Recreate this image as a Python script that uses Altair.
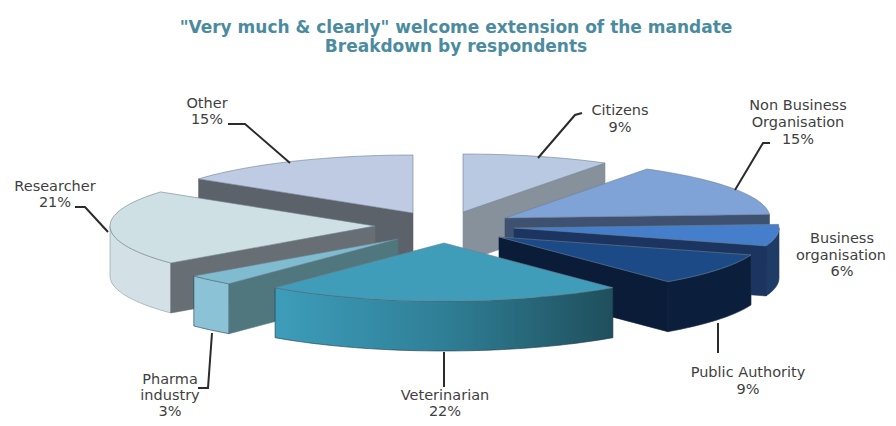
import math
import altair as alt
import pandas as pd

categories = ["Citizens", "Non Business Organisation", "Business organisation", "Public Authority",
              "Veterinarian", "Pharma industry", "Researcher", "Other"]
values = [9, 15, 6, 9, 22, 3, 21, 15]
title_lines = ['"Very much & clearly" welcome extension of the mandate', "Breakdown by respondents"]

# exploded-slice apex, per category
apex = {"Citizens": (463, 212), "Non Business Organisation": (505, 218), "Business organisation": (514, 228),
        "Public Authority": (499, 237), "Veterinarian": (444, 243), "Pharma industry": (398, 239),
        "Researcher": (375, 226), "Other": (413, 213)}
# top, wall, cut face colours
colors = {"Citizens": ("#b9c9e2", "#b9c9e2", "#87919c"),
          "Non Business Organisation": ("#7fa3d6", "#3f5170", "#3f5170"),
          "Business organisation": ("#457fcb", "#1f3c66", "#1c3560"),
          "Public Authority": ("#1c4a86", "#0b1f3d", "#0a1c38"),
          "Veterinarian": ("#409db9", None, "#1f5260"),
          "Pharma industry": ("#7fbccf", "#8cc2d6", "#50767e"),
          "Researcher": ("#cfe0e5", "#d3e0e5", "#676f74"),
          "Other": ("#bfcbe3", "#bfcbe3", "#5c6269")}
draw_order = ["Other", "Citizens", "Researcher", "Non Business Organisation", "Pharma industry",
              "Business organisation", "Public Authority", "Veterinarian"]
RX, RY, DEPTH = 265, 58, 50

labels = [
    (207, 104, "Other"), (207, 120, "15%"),
    (620, 111, "Citizens"), (620, 128, "9%"),
    (798, 106, "Non Business"), (798, 123, "Organisation"), (798, 140, "15%"),
    (842, 239, "Business"), (841, 256, "organisation"), (842, 272, "6%"),
    (748, 373, "Public Authority"), (748, 390, "9%"),
    (445, 396, "Veterinarian"), (445, 412, "22%"),
    (170, 380, "Pharma"), (170, 396, "industry"), (170, 412, "3%"),
    (55, 187, "Researcher"), (55, 203, "21%"),
]
leaders = [
    [(228, 124), (245, 124), (290, 163)],
    [(582, 113), (575, 115), (538, 158)],
    [(770, 143), (763, 143), (735, 190)],
    [(718, 323), (718, 353)],
    [(444, 352), (444, 387)],
    [(212, 333), (208, 388), (198, 388)],
    [(75, 207), (85, 207), (108, 232)],
]

X = alt.X("x:Q", scale=alt.Scale(domain=[8, 888], nice=False, zero=False), axis=None)
Y = alt.Y("y:Q", scale=alt.Scale(domain=[418, 8], nice=False, zero=False), axis=None)


def poly(points, fill, stroke="#5a6a78", sw=0.6):
    df = pd.DataFrame([{"x": p[0], "y": p[1], "i": i} for i, p in enumerate(points + [points[0]])])
    return alt.Chart(df).mark_line(fill=fill, stroke=stroke, strokeWidth=sw, strokeJoin="round").encode(
        x=X, y=Y, order="i:Q")


def arc_pt(cx, cy, deg, dy=0):
    r = math.radians(deg)
    return (cx + RX * math.sin(r), cy - RY * math.cos(r) + dy)


spans = {}
acc = 0
for c, v in zip(categories, values):
    spans[c] = (acc * 3.6, (acc + v) * 3.6)
    acc += v


def arc(cx, cy, a, b, dy=0):
    n = max(2, int((b - a) / 2) + 2)
    return [arc_pt(cx, cy, a + (b - a) * k / (n - 1), dy) for k in range(n)]


vet_wall = alt.Gradient(gradient="linear", x1=0, x2=1, y1=0, y2=0, stops=[
    alt.GradientStop(color="#3d9dba", offset=0), alt.GradientStop(color="#2f7f96", offset=0.5),
    alt.GradientStop(color="#1f4f5c", offset=1)])

layers = []
for c in draw_order:
    a, b = spans[c]
    cx, cy = apex[c]
    top, wall, cut = colors[c]
    wa, wb = max(a, 90), min(b, 270)
    if wb > wa:
        w = arc(cx, cy, wa, wb)
        w = w + [(x, y + DEPTH) for x, y in reversed(w)]
        layers.append(poly(w, vet_wall if c == "Veterinarian" else wall, stroke="#20384a" if c != "Researcher" else "#8a9aa2"))
    if b < 180:
        e = arc_pt(cx, cy, b)
        layers.append(poly([(cx, cy), e, (e[0], e[1] + DEPTH), (cx, cy + DEPTH)], cut, stroke=cut))
    if a > 180:
        e = arc_pt(cx, cy, a)
        layers.append(poly([(cx, cy), e, (e[0], e[1] + DEPTH), (cx, cy + DEPTH)], cut, stroke=cut))
    layers.append(poly([(cx, cy)] + arc(cx, cy, a, b), top, stroke="#6d7f92"))

for line in leaders:
    df = pd.DataFrame([{"x": p[0], "y": p[1], "i": i} for i, p in enumerate(line)])
    layers.append(alt.Chart(df).mark_line(color="#2b2b2b", strokeWidth=2).encode(x=X, y=Y, order="i:Q"))

label_df = pd.DataFrame(labels, columns=["x", "y", "t"])
layers.append(alt.Chart(label_df).mark_text(font="DejaVu Sans", fontSize=14.5, color="#3f3f3f",
                                            align="center", baseline="middle").encode(x=X, y=Y, text="t:N"))

title_df = pd.DataFrame({"x": [456, 456], "y": [28, 47], "t": title_lines})
layers.append(alt.Chart(title_df).mark_text(font="DejaVu Sans", fontSize=17, fontWeight="bold", color="#4b8ba0",
                                            align="center", baseline="middle").encode(x=X, y=Y, text="t:N"))

chart = alt.layer(*layers).properties(width=880, height=410, padding=0, background="white",
                                      autosize=alt.AutoSizeParams(type="none")
                                      ).configure_view(strokeWidth=0, stroke=None)
chart.save("out.html", embed_options={"renderer": "svg", "actions": False})
